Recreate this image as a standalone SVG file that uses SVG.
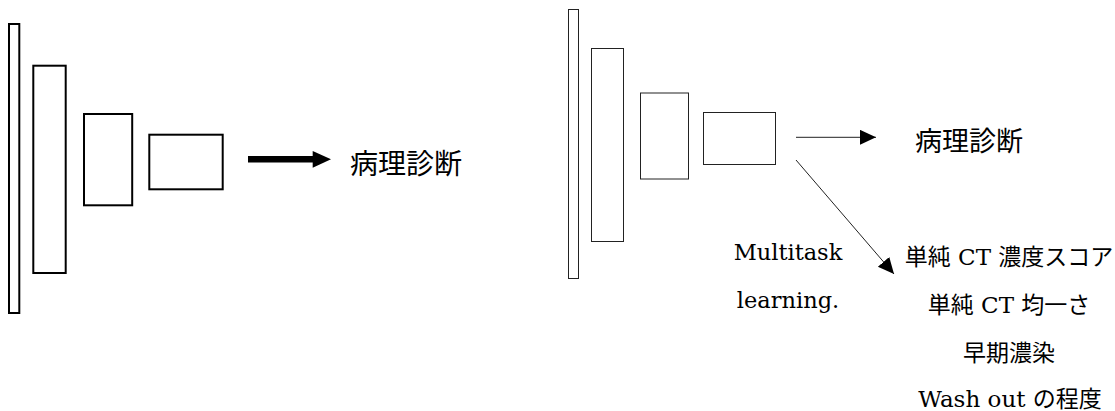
<svg xmlns="http://www.w3.org/2000/svg" width="1115" height="411" viewBox="0 0 1115 411">
<style>
.lb{fill:#fff;stroke:#000;stroke-width:2}
.rb{fill:#fff;stroke:#222;stroke-width:1}
.cj{font-family:"Noto Sans CJK JP","Noto Sans",sans-serif;fill:#000}
.sf{font-family:"DejaVu Serif","Noto Sans CJK JP",serif;fill:#000}
.ln{stroke:#222;stroke-width:1;fill:none}
</style>
<defs>
<marker id="ah" markerUnits="userSpaceOnUse" markerWidth="17" markerHeight="16" refX="16" refY="7.5" orient="auto">
<path d="M0,0 L16,7.5 L0,15 Z" fill="#000"/>
</marker>
</defs>
<rect width="1115" height="411" fill="#fff"/>
<g id="left-net">
<rect class="lb" x="9" y="24" width="10.3" height="289"/>
<rect class="lb" x="33.3" y="65.7" width="32.4" height="207.3"/>
<rect class="lb" x="84" y="114" width="48.2" height="91.3"/>
<rect class="lb" x="149.3" y="134.7" width="73.4" height="54.6"/>
</g>
<g id="left-label"><text class="cj" x="350" y="174" font-size="28">病理診断</text></g>
<g id="right-net">
<rect class="rb" x="568.5" y="9.5" width="10" height="269"/>
<rect class="rb" x="591.5" y="48.5" width="32" height="193"/>
<rect class="rb" x="640.5" y="93" width="48" height="86"/>
<rect class="rb" x="703.5" y="112.5" width="72" height="52"/>
</g>
<g id="right-label"><text class="cj" x="915" y="151" font-size="27">病理診断</text></g>
<g id="multitask-label">
<text class="sf" x="788" y="260" font-size="22.5" text-anchor="middle">Multitask</text>
<text class="sf" x="788" y="308" font-size="22.5" text-anchor="middle">learning.</text>
</g>
<g id="tasks">
<text class="sf" x="1009" y="265" font-size="23" text-anchor="middle">単純 CT 濃度スコア</text>
<text class="sf" x="1009" y="313" font-size="23" text-anchor="middle">単純 CT 均一さ</text>
<text class="sf" x="1009" y="361" font-size="23" text-anchor="middle">早期濃染</text>
<text class="sf" x="1010" y="407" font-size="23" text-anchor="middle">Wash out の程度</text>
</g>
<g id="connectors">
<line x1="248" y1="159.3" x2="314" y2="159.3" stroke="#000" stroke-width="6.5"/>
<polygon points="312.7,151 331,159.3 312.7,167.7" fill="#000"/>
<line class="ln" x1="796" y1="137.3" x2="876" y2="137.3" marker-end="url(#ah)"/>
<line class="ln" x1="796" y1="160" x2="894" y2="274" marker-end="url(#ah)"/>
</g>
</svg>
